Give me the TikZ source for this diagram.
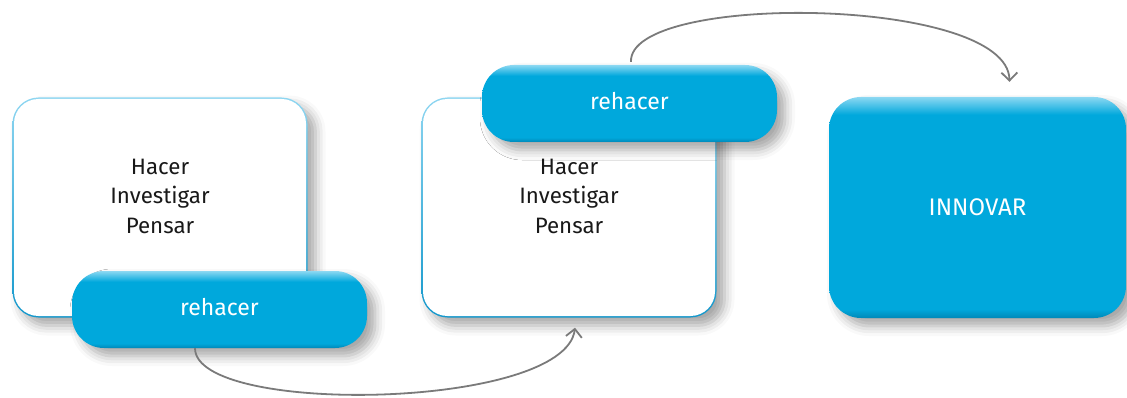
\documentclass[tikz,border=0pt]{standalone}
\usepackage{fontspec}
\setmainfont{Fira Sans}[Ligatures=NoCommon]
\usetikzlibrary{shadows.blur,arrows.meta}
\definecolor{cyanbase}{HTML}{00A8DC}
\definecolor{cyanlight}{HTML}{8CD8F2}
\definecolor{cyandark}{HTML}{0088B8}
\definecolor{edgetop}{HTML}{8ED6F1}
\definecolor{edgebot}{HTML}{1498CC}
\definecolor{arrowgray}{HTML}{7A7A7A}
\pgfdeclareverticalshading{pillshade}{100bp}{color(0bp)=(cyandark); color(25bp)=(cyandark); color(28bp)=(cyanbase); color(68bp)=(cyanbase); color(75bp)=(cyanlight); color(100bp)=(cyanlight)}
\pgfdeclareverticalshading{bigshade}{100bp}{color(0bp)=(cyandark); color(25bp)=(cyandark); color(27bp)=(cyanbase); color(71bp)=(cyanbase); color(75bp)=(cyanlight); color(100bp)=(cyanlight)}
\pgfdeclareverticalshading{edgeshade}{100bp}{color(0bp)=(edgebot); color(25bp)=(edgebot); color(75bp)=(edgetop); color(100bp)=(edgetop)}
\tikzset{
  softshadow/.style={blur shadow={shadow xshift=8pt, shadow yshift=-8pt, shadow blur radius=10pt, shadow opacity=35}},
  edgebox/.style={shading=edgeshade, rounded corners=26pt,
    minimum width=295pt, minimum height=220pt, inner sep=0pt, softshadow},
  innerbox/.style={fill=white, rounded corners=24.5pt,
    minimum width=292pt, minimum height=217pt, inner sep=0pt},
  pill/.style={shading=pillshade, rounded corners=32pt, minimum width=295pt, minimum height=77pt,
    inner sep=0pt, softshadow},
  bigbox/.style={shading=bigshade, rounded corners=32pt, minimum width=297pt, minimum height=221pt,
    inner sep=0pt, softshadow},
  boxtext/.style={align=center, font=\fontsize{22.3}{29.5}\selectfont, text=black!90},
  pilltext/.style={font=\fontsize{23}{26}\selectfont, text=white},
  bigtext/.style={font=\fontsize{24}{28}\selectfont, text=white},
  flow/.style={draw=arrowgray, line width=1.8pt, -{Straight Barb[length=8pt,width=16pt,line width=1.8pt]}},
}
\begin{document}
\begin{tikzpicture}[x=1pt,y=-1pt]
\useasboundingbox (0,0) rectangle (1127,398);
% box 1
\node[edgebox] (box1) at (160,207.5) {};
\node[innerbox] (box1in) at (box1.center) {};
\node[boxtext] (box1t) at (160,196) {Hacer\\Investigar\\Pensar};
\node[pill] (pill1) at (219.5,309.5) {};
\node[pilltext] (pill1t) at (219.5,307.5) {rehacer};
% box 2
\node[edgebox] (box2) at (569,207.5) {};
\node[innerbox] (box2in) at (box2.center) {};
\node[boxtext] (box2t) at (569,196) {Hacer\\Investigar\\Pensar};
\node[pill] (pill2) at (629.5,103.5) {};
\node[pilltext] (pill2t) at (629.5,101.5) {rehacer};
% box 3
\node[bigbox] (box3) at (977.5,207.5) {};
\node[bigtext] (box3t) at (977.5,207) {INNOVAR};
% arrows
\coordinate (a1s) at ([xshift=-24.5pt]pill1.south);
\coordinate (a1e) at ([xshift=6pt,yshift=-10pt]box2.south);
\draw[flow] (a1s) .. controls (195,416) and (565,410) .. (a1e);
\coordinate (a2s) at ([xshift=1.5pt,yshift=3pt]pill2.north);
\coordinate (a2e) at ([xshift=32pt,yshift=15pt]box3.north);
\draw[flow] (a2s) .. controls (628,-8) and (1008,-4) .. (a2e);
\end{tikzpicture}
\end{document}
